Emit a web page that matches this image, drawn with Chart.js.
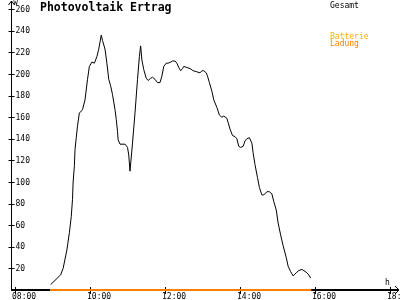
<!DOCTYPE html>
<html>
<head>
<meta charset="utf-8">
<script src="https://cdn.jsdelivr.net/npm/chart.js@4/dist/chart.umd.min.js"></script>
<style>
    html, body { margin: 0; padding: 0; background: #fff; }
</style>
</head>
<body>
<canvas id="chart" width="400" height="300"></canvas>
<script>

/* =========================
   DATA
========================= */

const times = [
    "08:57", "09:13", "09:17", "09:23", "09:27", "09:30", "09:32", "09:33", "09:35", "09:36",
    "09:38", "09:40", "09:43", "09:47", "09:48", "09:52", "09:56", "09:59", "10:03", "10:07",
    "10:11", "10:14", "10:18", "10:20", "10:24", "10:27", "10:30", "10:33", "10:36", "10:40",
    "10:42", "10:44", "10:45", "10:48", "10:56", "11:00", "11:02", "11:04", "11:08", "11:12",
    "11:16", "11:19", "11:21", "11:23", "11:26", "11:30", "11:33", "11:37", "11:40", "11:44",
    "11:48", "11:52", "11:55", "11:58", "12:02", "12:05", "12:09", "12:12", "12:16", "12:19",
    "12:22", "12:25", "12:28", "12:30", "12:35", "12:40", "12:45", "12:51", "12:56", "12:59",
    "13:02", "13:06", "13:08", "13:11", "13:15", "13:18", "13:23", "13:27", "13:31", "13:34",
    "13:39", "13:41", "13:44", "13:48", "13:52", "13:55", "13:58", "14:01", "14:05", "14:08",
    "14:11", "14:15", "14:19", "14:21", "14:24", "14:28", "14:31", "14:35", "14:38", "14:43",
    "14:47", "14:51", "14:54", "14:58", "15:01", "15:05", "15:09", "15:14", "15:17", "15:21",
    "15:25", "15:30", "15:34", "15:39", "15:42", "15:47", "15:50", "15:53"
];

const gesamt = [
    5, 14, 20, 37, 53, 68, 84, 100, 115, 130,
    141, 152, 164, 166, 167, 176, 195, 207, 211, 210,
    216, 223, 236, 231, 223, 210, 195, 189, 181, 167,
    158, 147, 139, 135, 135, 132, 125, 110, 136, 164,
    195, 216, 226, 213, 204, 196, 194, 196, 197, 195,
    192, 192, 198, 207, 210, 210, 211, 212, 212, 210,
    206, 203, 205, 207, 206, 205, 203, 202, 201, 203,
    203, 201, 198, 192, 184, 176, 169, 162, 160, 161,
    159, 155, 149, 143, 142, 140, 133, 132, 133, 138,
    140, 141, 136, 127, 116, 104, 95, 88, 88, 91,
    91, 89, 82, 74, 62, 51, 41, 30, 22, 17,
    13, 16, 18, 19, 18, 16, 14, 11
];

const ladungTimes = ["08:56", "15:54"];
const ladung = [0, 0];

const batterieTimes = [];
const batterie = [];

const yTicks = [20, 40, 60, 80, 100, 120, 140, 160, 180, 200, 220, 240, 260];
const xTicks = ["08:00", "10:00", "12:00", "14:00", "16:00", "18:00"];

const MONO = "'DejaVu Sans Mono', monospace";


/* =========================
   HELPERS
========================= */

function toMin(t) {
    const p = t.split(":");
    return parseInt(p[0], 10) * 60 + parseInt(p[1], 10);
}

function toPoints(ts, vs) {
    return ts.map((t, i) => ({ x: toMin(t), y: vs[i] }));
}


/* =========================
   AXES + TEXT PLUGIN
========================= */

const axesPlugin = {
    id: "axesPlugin",
    beforeDatasetsDraw(chart) {
        const ctx = chart.ctx;
        const xs = chart.scales.x;
        const ys = chart.scales.y;
        const ax = Math.round(chart.chartArea.left) + 0.5;
        const ay = Math.round(chart.chartArea.bottom);

        ctx.save();
        ctx.strokeStyle = "#000";
        ctx.lineWidth = 1;
        ctx.beginPath();

        // y axis with arrow
        ctx.moveTo(ax, ay + 1);
        ctx.lineTo(ax, 1);
        ctx.moveTo(ax - 3, 5);
        ctx.lineTo(ax, 1);
        ctx.lineTo(ax + 3, 5);

        // y ticks
        yTicks.forEach(v => {
            const py = Math.round(ys.getPixelForValue(v)) + 0.5;
            ctx.moveTo(ax - 3, py);
            ctx.lineTo(ax + 3, py);
        });

        // x ticks
        xTicks.forEach(t => {
            const px = Math.round(xs.getPixelForValue(toMin(t))) + 0.5;
            ctx.moveTo(px, ay - 3);
            ctx.lineTo(px, ay + 4);
        });

        // x arrow
        ctx.moveTo(395, ay - 4);
        ctx.lineTo(399, ay);
        ctx.lineTo(395, ay + 4);
        ctx.stroke();

        // x axis (2px)
        ctx.lineWidth = 2;
        ctx.beginPath();
        ctx.moveTo(ax - 0.5, ay);
        ctx.lineTo(399, ay);
        ctx.stroke();

        // tick labels
        ctx.fillStyle = "#000";
        ctx.font = "8px " + MONO;
        ctx.textAlign = "left";
        ctx.textBaseline = "middle";
        yTicks.forEach(v => {
            ctx.fillText(String(v), ax + 4, ys.getPixelForValue(v) + 0.5);
        });

        ctx.textBaseline = "top";
        xTicks.forEach(t => {
            ctx.fillText(t, xs.getPixelForValue(toMin(t)) - 3, ay + 3);
        });

        // units
        ctx.font = "7px " + MONO;
        ctx.fillText("W", ax + 2, 0);
        ctx.font = "8px " + MONO;
        ctx.textBaseline = "alphabetic";
        ctx.fillText("h", 385, ay - 5);

        ctx.restore();
    },
    afterDraw(chart) {
        const ctx = chart.ctx;
        ctx.save();

        // title
        ctx.fillStyle = "#000";
        ctx.font = "bold 11.5px " + MONO;
        ctx.textAlign = "left";
        ctx.textBaseline = "alphabetic";
        ctx.fillText("Photovoltaik Ertrag", 40, 11);

        // legend
        ctx.font = "8px " + MONO;
        const ds = chart.data.datasets;
        const rows = [7.5, 38.5, 46];
        ds.forEach((d, i) => {
            ctx.fillStyle = d.legendColor;
            ctx.fillText(d.label, 330, rows[i]);
        });

        ctx.restore();
    }
};


/* =========================
   CHART
========================= */

new Chart(document.getElementById("chart").getContext("2d"), {
    type: "line",
    data: {
        datasets: [
            {
                label: "Gesamt",
                data: toPoints(times, gesamt),
                borderColor: "#000000",
                legendColor: "#000000",
                borderWidth: 1,
                pointRadius: 0,
                tension: 0
            },
            {
                label: "Batterie",
                data: toPoints(batterieTimes, batterie),
                borderColor: "#ffb000",
                legendColor: "#ffb000",
                borderWidth: 2,
                pointRadius: 0
            },
            {
                label: "Ladung",
                data: toPoints(ladungTimes, ladung),
                borderColor: "#ff8000",
                legendColor: "#ff8000",
                borderWidth: 2,
                pointRadius: 0,
                clip: false,
                order: -1
            }
        ]
    },
    options: {
        responsive: false,
        animation: false,
        layout: {
            padding: { left: 11, right: 2, top: 3, bottom: 10 }
        },
        scales: {
            x: { type: "linear", min: 473.6, max: 1092.8, display: false },
            y: { min: 0, max: 265.7, display: false }
        },
        plugins: {
            legend: { display: false },
            tooltip: { enabled: false }
        }
    },
    plugins: [axesPlugin]
});
</script>
</body>
</html>
